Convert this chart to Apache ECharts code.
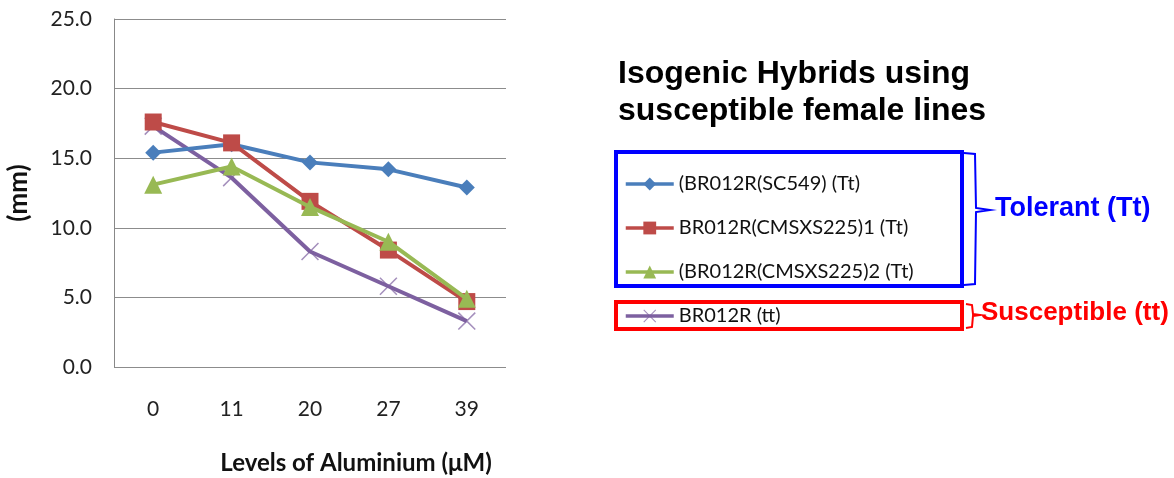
<!DOCTYPE html>
<html><head><meta charset="utf-8">
<script src="https://cdn.jsdelivr.net/npm/echarts@6/dist/echarts.min.js"></script>
<style>html,body{margin:0;padding:0;background:#fff}#c{width:1174px;height:478px}</style>
</head><body><div id="c"></div>
<script>
var categories = ['0', '11', '20', '27', '39'];
var seriesNames = ['(BR012R(SC549) (Tt)', 'BR012R(CMSXS225)1 (Tt)', '(BR012R(CMSXS225)2 (Tt)', 'BR012R (tt)'];
var sc549 = [15.4, 16.0, 14.7, 14.2, 12.9];
var cms1 = [17.6, 16.1, 11.9, 8.4, 4.7];
var cms2 = [13.1, 14.4, 11.5, 9.0, 4.9];
var br012 = [17.3, 13.6, 8.3, 5.8, 3.3];
var yTicks = [0, 5, 10, 15, 20, 25];

var colors = ['#4A7EBB', '#BE4B48', '#98B954', '#7D60A0'];
var xPath = 'path://M0,1.2L1.2,0L10,8.8L18.8,0L20,1.2L11.2,10L20,18.8L18.8,20L10,11.2L1.2,20L0,18.8L8.8,10Z';
var symbols = ['diamond', 'rect', 'triangle', xPath];
var sizes = [16, 17, 18, 18];
var dataArr = [sc549, cms1, cms2, br012];
var font = 'Lato, "Open Sans", sans-serif';

var chart = echarts.init(document.getElementById('c'), null, {renderer: 'canvas'});
var series = dataArr.map(function (d, i) {
  return {
    name: seriesNames[i], type: 'line', data: d,
    symbol: symbols[i], symbolSize: sizes[i], showAllSymbol: true,
    lineStyle: {color: colors[i], width: 4},
    itemStyle: {color: colors[i], opacity: i === 3 ? 0.7 : 1},
    emphasis: {disabled: true}, z: 2 + (i === 3 ? -1 : i)
  };
});
chart.setOption({
  animation: false,
  color: colors,
  grid: {left: 114, top: 19, width: 392, height: 348, containLabel: false},
  xAxis: {
    type: 'category', data: categories, boundaryGap: true,
    axisLine: {show: false}, axisTick: {show: false},
    axisLabel: {fontSize: 21, color: '#222', margin: 32, fontFamily: font},
    splitLine: {show: false}
  },
  yAxis: {
    type: 'value', min: yTicks[0], max: yTicks[yTicks.length - 1], interval: 5,
    axisLine: {show: true, lineStyle: {color: '#888', width: 1}},
    axisTick: {show: false},
    axisLabel: {fontSize: 21, color: '#222', margin: 22, fontFamily: font,
      formatter: function (v) { return v.toFixed(1); }},
    splitLine: {lineStyle: {color: '#8c8c8c', width: 1}},
    name: '(mm)', nameLocation: 'middle', nameGap: 82, nameRotate: 90,
    nameTextStyle: {fontSize: 26, fontWeight: 'bold', color: '#111', fontFamily: font}
  },
  legend: {
    orient: 'vertical', left: 619, top: 169, itemGap: 24, itemWidth: 48, itemHeight: 16,
    data: seriesNames,
    lineStyle: {width: 3.5},
    textStyle: {fontSize: 20, color: '#111', fontFamily: font},
    selectedMode: false
  },
  graphic: [
    {type: 'text', left: 618, top: 56, style: {text: 'Isogenic Hybrids using\nsusceptible female lines', font: 'bold 32px "Liberation Sans", Arial, sans-serif', fill: '#000', lineHeight: 37}},
    {type: 'text', x: 356, y: 463, style: {text: 'Levels of Aluminium (μM)', font: 'bold 24px Lato, sans-serif', fill: '#111', align: 'center', verticalAlign: 'middle'}},
    {type: 'rect', shape: {x: 616, y: 152, width: 346, height: 134}, style: {fill: 'none', stroke: '#0000FF', lineWidth: 4}},
    {type: 'rect', shape: {x: 616, y: 302, width: 346, height: 27}, style: {fill: 'none', stroke: '#FF0000', lineWidth: 4}},
    {type: 'polyline', shape: {points: [[964, 153], [975, 154], [976, 208], [990, 210], [976, 212], [975, 284], [964, 285]]}, style: {fill: 'none', stroke: '#0000FF', lineWidth: 2}},
    {type: 'polyline', shape: {points: [[966, 304], [972, 305], [973, 314], [980, 315], [973, 316], [972, 327], [966, 328]]}, style: {fill: 'none', stroke: '#FF0000', lineWidth: 2}},
    {type: 'text', left: 995, top: 195, style: {text: 'Tolerant (Tt)', font: 'bold 27px "Liberation Sans", Arial, sans-serif', fill: '#0000FF'}},
    {type: 'text', left: 981, top: 300, style: {text: 'Susceptible (tt)', font: 'bold 26px "Liberation Sans", Arial, sans-serif', fill: '#FF0000'}}
  ],
  series: series
});
</script></body></html>
